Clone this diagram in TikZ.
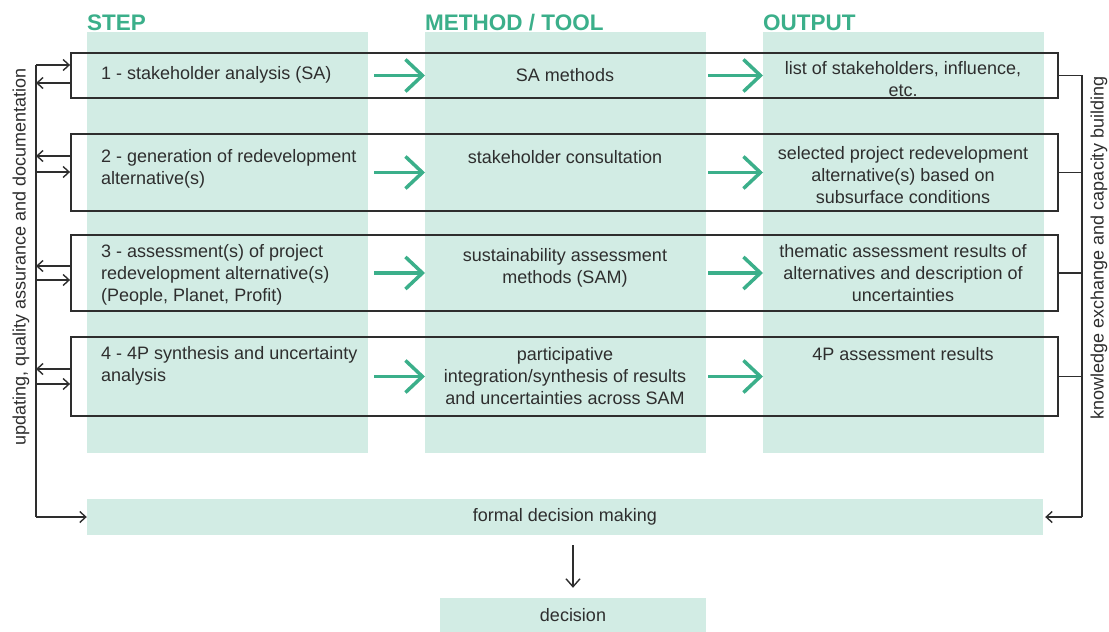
\documentclass[tikz,border=0pt]{standalone}
\usepackage{fontspec}
\setmainfont{Liberation Sans}
\usetikzlibrary{arrows.meta}
\definecolor{pale}{HTML}{D2ECE4}
\definecolor{myteal}{HTML}{3BAF8A}
\definecolor{ink}{HTML}{2E2E2E}
\begin{document}
\begin{tikzpicture}[x=1pt,y=-1pt,
  font=\fontsize{18}{22}\selectfont, text=ink,
  col/.style={fill=pale, draw=none, inner sep=0, minimum width=281, minimum height=421, anchor=north west},
  rowbox/.style={draw=ink, line width=1.8pt, inner sep=0, minimum width=987},
  head/.style={text=myteal, font=\fontsize{22.5}{26}\selectfont\bfseries, anchor=base west, inner sep=0},
  gar/.style={draw=myteal, line width=3.5pt, -{Straight Barb[length=17pt,width=32pt]}},
  barb/.style={draw=ink, line width=1.4pt, -{Straight Barb[length=6pt,width=11pt]}},
  rail/.style={draw=ink, line width=1.4pt},
  steptxt/.style={anchor=west, align=left, inner sep=0},
  ctxt/.style={anchor=center, align=center, inner sep=0},
  greenbox/.style={fill=pale, draw=none, inner sep=0}
]
\useasboundingbox (0,0) rectangle (1109,632);

% columns
\node[col] (c1) at (87,32) {};
\node[col, minimum width=281] (c2) at (425,32) {};
\node[col] (c3) at (763,32) {};

% headers
\node[head] (h1) at (87,30) {STEP};
\node[head] (h2) at (425,30) {METHOD / TOOL};
\node[head] (h3) at (763,30) {OUTPUT};

% row boxes
\node[rowbox, minimum height=45] (r1) at (564.5,75.5) {};
\node[rowbox, minimum height=77] (r2) at (564.5,172.5) {};
\node[rowbox, minimum height=76] (r3) at (564.5,273) {};
\node[rowbox, minimum height=79] (r4) at (564.5,376.5) {};

% step texts
\node[steptxt] (s1) at (101,75) {1 - stakeholder analysis (SA)};
\node[steptxt] (s2) at (101,168.5) {2 - generation of redevelopment\\alternative(s)};
\node[steptxt] (s3) at (101,275) {3 - assessment(s) of project\\redevelopment alternative(s)\\(People, Planet, Profit)};
\node[steptxt] (s4) at (101,365.5) {4 - 4P synthesis and uncertainty\\analysis};

% method texts
\node[ctxt] (m1) at (565,75) {SA methods};
\node[ctxt] (m2) at (565,157) {stakeholder consultation};
\node[ctxt] (m3) at (565,268) {sustainability assessment\\methods (SAM)};
\node[ctxt] (m4) at (565,376.5) {participative\\integration/synthesis of results\\and uncertainties across SAM};

% output texts
\node[ctxt] (o1) at (903,79) {list of stakeholders, influence,\\etc.};
\node[ctxt] (o2) at (903,175) {selected project redevelopment\\alternative(s) based on\\subsurface conditions};
\node[ctxt] (o3) at (903,273) {thematic assessment results of\\alternatives and description of\\uncertainties};
\node[ctxt] (o4) at (903,354) {4P assessment results};

% green arrows
\foreach \r in {r1,r2,r3,r4}{
  \draw[gar] ([xshift=6pt]c1.east |- \r.center) -- (c2.west |- \r.center);
  \draw[gar] ([xshift=2pt]c2.east |- \r.center) -- (c3.west |- \r.center);
}

% decision boxes
\node[greenbox, minimum width=956, minimum height=36] (fdm) at (565,517) {formal decision making};
\node[greenbox, minimum width=266, minimum height=34] (dec) at (573,615) {decision};
\draw[barb, line width=1.4pt, -{Straight Barb[length=8pt,width=14pt]}] ([yshift=-10pt]fdm.south -| dec.north) -- ([yshift=10pt]dec.north);

% left rail
\coordinate (L) at (36,65);
\draw[rail] (L) -- (L |- fdm.west);
\draw[barb] (L |- fdm.west) -- (fdm.west);
\draw[barb] (L) -- (r1.west |- L);
\draw[barb] (r1.west |- 0,83) -- (L |- 0,83);
\draw[barb] (r2.west |- 0,156) -- (L |- 0,156);
\draw[barb] (L |- 0,172) -- (r2.west |- 0,172);
\draw[barb] (r3.west |- 0,266) -- (L |- 0,266);
\draw[barb] (L |- 0,280) -- (r3.west |- 0,280);
\draw[barb] (r4.west |- 0,369) -- (L |- 0,369);
\draw[barb] (L |- 0,384) -- (r4.west |- 0,384);

% right rail
\coordinate (R) at (1082,0);
\draw[rail] (r1.east) -- (R |- r1.east) -- (R |- fdm.east);
\draw[rail] (r2.east) -- (R |- r2.east);
\draw[rail] (r3.east) -- (R |- r3.east);
\draw[rail] (r4.east) -- (R |- r4.east);
\draw[barb] (R |- fdm.east) -- ([xshift=2pt]fdm.east);

% side texts
\node[rotate=90, inner sep=0] (lt) at (21,257) {updating, quality assurance and documentation};
\node[rotate=90, inner sep=0] (rt) at (1099,248) {knowledge exchange and capacity building};
\end{tikzpicture}
\end{document}
